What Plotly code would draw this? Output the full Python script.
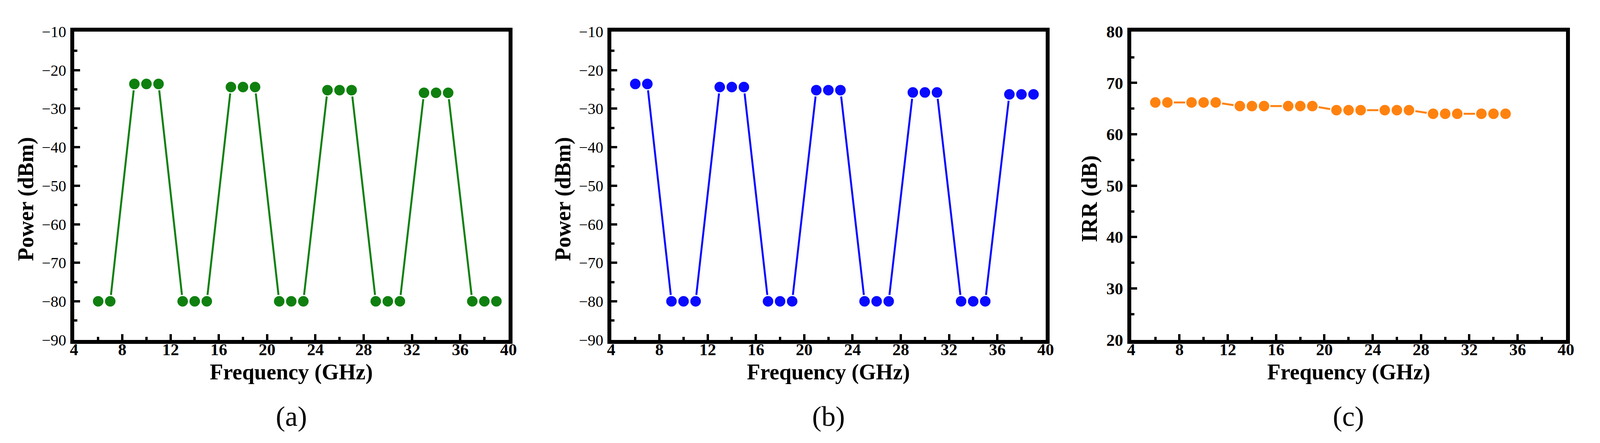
import plotly.graph_objects as go

# Dados
freq_ab = [6, 7, 9, 10, 11, 13, 14, 15, 17, 18, 19, 21, 22, 23,
           25, 26, 27, 29, 30, 31, 33, 34, 35, 37, 38, 39]
power_a = [-80, -80, -23.6, -23.6, -23.6, -80, -80, -80, -24.4, -24.4, -24.4,
           -80, -80, -80, -25.2, -25.2, -25.2, -80, -80, -80,
           -25.9, -25.9, -25.9, -80, -80, -80]
power_b = [-23.6, -23.6, -80, -80, -80, -24.4, -24.4, -24.4, -80, -80, -80,
           -25.2, -25.2, -25.2, -80, -80, -80, -25.8, -25.8, -25.8,
           -80, -80, -80, -26.3, -26.3, -26.3]
freq_c = [6, 7, 9, 10, 11, 13, 14, 15, 17, 18, 19, 21, 22, 23,
          25, 26, 27, 29, 30, 31, 33, 34, 35]
irr_c = [66.2, 66.2, 66.2, 66.2, 66.2, 65.5, 65.5, 65.5, 65.5, 65.5, 65.5,
         64.7, 64.7, 64.7, 64.7, 64.7, 64.7, 64.0, 64.0, 64.0, 64.0, 64.0, 64.0]

panel_labels = ["(a)", "(b)", "(c)"]
y_titles = ["Power (dBm)", "Power (dBm)", "IRR (dB)"]

W, H = 4113, 1135
FONT = "Liberation Serif"

x_domains = [[0.0418, 0.3144], [0.3788, 0.6514], [0.7051, 0.9779]]
y_domain = [0.2282, 0.9542]

fig = go.Figure()


def serie(x, y, cor, xa, ya):
    return go.Scatter(
        x=x, y=y, mode="lines+markers", xaxis=xa, yaxis=ya,
        line=dict(color=cor, width=5),
        marker=dict(color=cor, size=30, line=dict(color="white", width=3)),
        showlegend=False, cliponaxis=False)


fig.add_trace(serie(freq_ab, power_a, "#0f800f", "x", "y"))
fig.add_trace(serie(freq_ab, power_b, "#0a0aff", "x2", "y2"))
fig.add_trace(serie(freq_c, irr_c, "#ff820f", "x3", "y3"))

eixo_comum = dict(
    showline=True, linewidth=10, linecolor="black", mirror=True,
    ticks="inside", ticklen=15, tickwidth=6, tickcolor="black",
    showgrid=False, zeroline=False,
)

layout = dict(
    width=W, height=H, autosize=False,
    margin=dict(l=0, r=0, t=0, b=0),
    paper_bgcolor="white", plot_bgcolor="white",
    annotations=[],
)

for i in range(3):
    sfx = "" if i == 0 else str(i + 1)
    layout["xaxis" + sfx] = dict(
        eixo_comum, domain=x_domains[i], anchor="y" + sfx,
        range=[4, 40], dtick=4, tick0=4,
        minor=dict(ticks="inside", ticklen=8, tickwidth=6, dtick=2, tick0=4,
                   tickcolor="black"),
        tickfont=dict(family=FONT, size=43, color="black", weight="bold"),
        ticklabelstandoff=-22,
    )
    if i < 2:
        yr, ydt = [-90, -10], 10
        yfont = dict(family=FONT, size=40, color="black")
    else:
        yr, ydt = [20, 80], 10
        yfont = dict(family=FONT, size=43, color="black", weight="bold")
    layout["yaxis" + sfx] = dict(
        eixo_comum, domain=y_domain, anchor="x" + sfx,
        range=yr, dtick=ydt,
        minor=dict(ticks="inside", ticklen=8, tickwidth=6, dtick=5,
                   tickcolor="black"),
        tickfont=yfont, ticklabelstandoff=2,
    )
    xc = (x_domains[i][0] + x_domains[i][1]) / 2
    # titulo do eixo x
    layout["annotations"].append(dict(
        text="Frequency (GHz)", x=xc, y=0.152, xref="paper", yref="paper",
        showarrow=False, xanchor="center", yanchor="middle",
        font=dict(family=FONT, size=56, color="black", weight="bold")))
    # titulo do eixo y
    off = 0.0300 if i < 2 else 0.0260
    layout["annotations"].append(dict(
        text=y_titles[i], x=x_domains[i][0] - off, y=0.56,
        xref="paper", yref="paper", textangle=-90,
        showarrow=False, xanchor="center", yanchor="middle",
        font=dict(family=FONT, size=56, color="black", weight="bold")))
    # rotulo do painel
    layout["annotations"].append(dict(
        text=panel_labels[i], x=xc, y=0.048, xref="paper", yref="paper",
        showarrow=False, xanchor="center", yanchor="middle",
        font=dict(family=FONT, size=72, color="black")))

fig.update_layout(**layout)

fig.write_html("out.html")
